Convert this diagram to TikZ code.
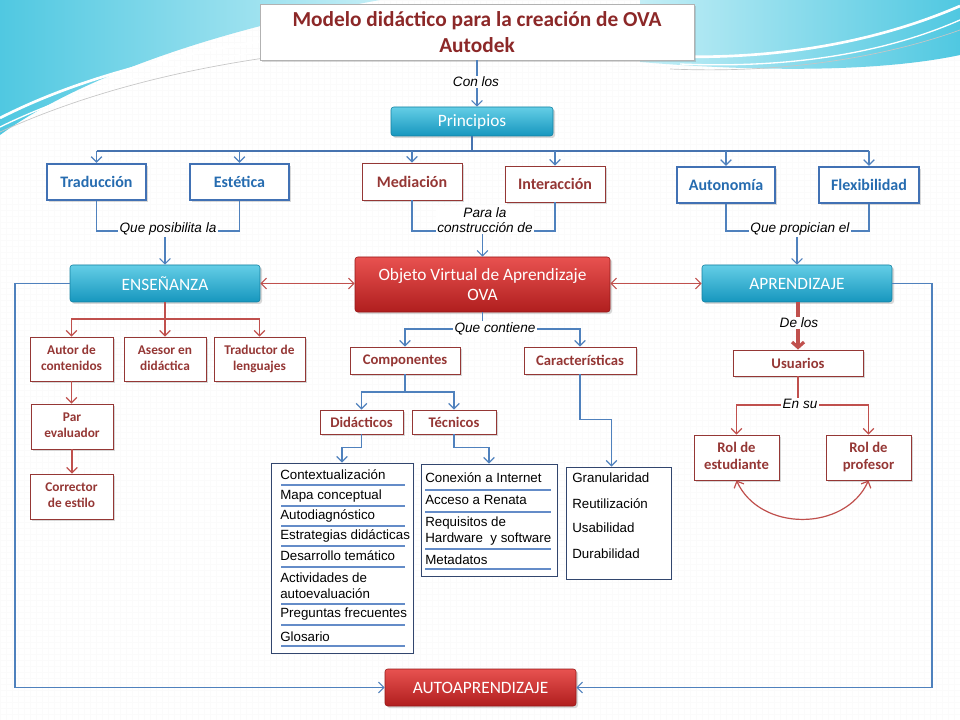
\documentclass[tikz,border=0pt]{standalone}
\usepackage{fontspec}
\setmainfont{Carlito}
\newfontfamily\arialf{Liberation Sans}
\usetikzlibrary{shadows,arrows.meta,calc}
\definecolor{cline}{RGB}{79,129,189}
\definecolor{cbus}{RGB}{70,115,175}
\definecolor{rline}{RGB}{192,80,77}
\definecolor{bbord}{RGB}{65,113,180}
\definecolor{btext}{RGB}{38,108,176}
\definecolor{rbord}{RGB}{149,55,53}
\definecolor{rtext}{RGB}{149,55,53}
\definecolor{ttext}{RGB}{140,40,40}
\definecolor{cyanTop}{RGB}{100,206,230}
\definecolor{cyanBot}{RGB}{22,150,190}
\definecolor{redTop}{RGB}{232,82,80}
\definecolor{redBot}{RGB}{176,30,30}
\definecolor{uline}{RGB}{100,140,200}
\definecolor{lbord}{RGB}{50,70,110}
\definecolor{swA}{RGB}{80,200,225}
\definecolor{swB}{RGB}{195,238,246}
\tikzset{
  shad/.style={drop shadow={opacity=0.3,shadow xshift=1.5pt,shadow yshift=-1.5pt}},
  titlebox/.style={shad,draw=gray!60,line width=0.6pt,fill=white,text=ttext,align=center,
    font=\bfseries\fontsize{16}{19.5}\selectfont},
  bluebox/.style={shad,draw=bbord,line width=1.8pt,fill=white,text=btext,align=center,
    inner sep=1pt,font=\bfseries\fontsize{12}{13}\selectfont},
  redbox/.style={shad,draw=rbord,line width=0.7pt,fill=white,text=rtext,align=center,
    inner sep=1pt,font=\bfseries\fontsize{12}{13}\selectfont},
  smallred/.style={redbox,font=\bfseries\fontsize{10}{12}\selectfont},
  midred/.style={redbox,font=\bfseries\fontsize{11}{12.75}\selectfont},
  cyanbox/.style={shad,rounded corners=2pt,top color=cyanTop,bottom color=cyanBot,
    draw=cyanBot!85!black,line width=0.4pt,text=white,align=center,
    font=\fontsize{13}{14}\selectfont},
  redfill/.style={shad,rounded corners=2pt,top color=redTop,bottom color=redBot,
    draw=redBot!85!black,line width=0.4pt,text=white,align=center,
    font=\fontsize{13}{15.5}\selectfont},
  lbl/.style={fill=white,inner sep=1pt,align=center,
    font=\arialf\itshape\fontsize{10.2}{11.5}\selectfont},
  listbox/.style={draw=lbord,line width=0.6pt,fill=white},
  item/.style={anchor=west,inner sep=0pt,align=left,
    font=\arialf\fontsize{10}{12}\selectfont},
  ul/.style={draw=uline,line width=0.8pt},
  bline/.style={draw=cline,line width=0.9pt},
  barrow/.style={bline,-{Straight Barb[length=4pt,width=8pt]}},
  bbusl/.style={draw=cbus,line width=1.6pt},
  rlin/.style={draw=rline,line width=0.9pt},
  rarrow/.style={rlin,-{Straight Barb[length=4pt,width=8pt]}},
  rdouble/.style={rlin,{Straight Barb[length=4pt,width=8pt]}-{Straight Barb[length=4pt,width=8pt]}},
  rthick/.style={draw=rline,line width=2.4pt,-{Straight Barb[length=4pt,width=9pt]}}
}
\begin{document}
\begin{tikzpicture}[x=0.75pt,y=-0.75pt]
\useasboundingbox (0,0) rectangle (960,720);
\fill[white] (0,0) rectangle (960,720);
\draw[gray!3,line width=0.4pt,step=4.5pt] (0,0) grid (960,720);
% background swooshes
\shade[left color=swA,right color=swB] (0,0) -- (380,0) .. controls (240,25) and (90,70) .. (0,135) -- cycle;
\draw[white,line width=2pt] (0,118) .. controls (90,72) and (220,38) .. (420,24);
\draw[white,line width=1pt] (0,127) .. controls (100,78) and (240,45) .. (430,34);
\draw[gray!45,line width=0.5pt] (0,132) .. controls (110,82) and (250,50) .. (440,42);
\shade[left color=swB,right color=swA] (640,0) -- (960,0) -- (960,55) .. controls (880,72) and (760,72) .. (640,62) -- cycle;
\draw[white,line width=2pt] (660,56) .. controls (800,62) and (900,32) .. (960,6);
\draw[white,line width=1pt] (680,64) .. controls (820,70) and (910,42) .. (960,20);
\draw[gray!45,line width=0.5pt] (670,69) .. controls (810,75) and (910,48) .. (960,30);

% nodes
\node[titlebox,minimum width=325.5pt,minimum height=42pt] (ttl) at (477,32) {Modelo didáctico para la creación de OVA\\Autodek};
\node[cyanbox,minimum width=121.5pt,minimum height=21.75pt] (princ) at (472,121.5) {Principios};

\node[bluebox,minimum width=74.25pt,minimum height=27pt] (trad) at (96.5,182) {Traducción};
\node[bluebox,minimum width=74.25pt,minimum height=27pt] (est) at (239.5,182) {Estética};
\node[redbox,minimum width=75pt,minimum height=27.75pt] (med) at (412,181.5) {Mediación};
\node[redbox,minimum width=75pt,minimum height=27pt] (inter) at (555,184) {Interacción};
\node[bluebox,minimum width=73.5pt,minimum height=27pt] (auton) at (726,185) {Autonomía};
\node[bluebox,minimum width=75pt,minimum height=27pt] (flex) at (869,185) {Flexibilidad};

\node[cyanbox,minimum width=142.5pt,minimum height=27.75pt] (ens) at (165,283.5) {ENSEÑANZA};
\node[redfill,minimum width=191.25pt,minimum height=41.25pt] (ova) at (482.5,284.5) {Objeto Virtual de Aprendizaje\\OVA};
\node[cyanbox,minimum width=142.5pt,minimum height=27.75pt] (apr) at (797,283.5) {APRENDIZAJE};

\node[smallred,minimum width=62.25pt,minimum height=33pt] (autor) at (71.5,359) {\strut Autor de\\contenidos\strut};
\node[smallred,minimum width=61.5pt,minimum height=33pt] (asesor) at (165,359) {\strut Asesor en\\didáctica\strut};
\node[smallred,minimum width=68.25pt,minimum height=33pt] (tradl) at (259.5,359) {\strut Traductor de\\lenguajes\strut};
\node[smallred,minimum width=61.5pt,minimum height=33.75pt] (par) at (72,426.5) {\strut Par\\evaluador\strut};
\node[smallred,minimum width=62.25pt,minimum height=33.75pt] (corr) at (71.5,496.5) {\strut Corrector\\de estilo\strut};

\node[midred,minimum width=82.5pt,minimum height=20.25pt] (comp) at (405,360.5) {Componentes};
\node[midred,minimum width=84pt,minimum height=20.25pt] (car) at (580,360.5) {Características};
\node[midred,minimum width=62.25pt,minimum height=18pt] (did) at (361.5,422) {Didácticos};
\node[midred,minimum width=63pt,minimum height=18pt] (tec) at (454,422) {Técnicos};

\node[midred,minimum width=97.5pt,minimum height=19.5pt] (usu) at (798,363) {Usuarios};
\node[midred,minimum width=63.75pt,minimum height=33.75pt] (rest) at (736.5,457.5) {\strut Rol de\\estudiante\strut};
\node[midred,minimum width=63.75pt,minimum height=33.75pt] (rprof) at (868.5,457.5) {\strut Rol de\\profesor\strut};

\node[redfill,minimum width=143.25pt,minimum height=27.75pt] (autoap) at (480.5,687.5) {AUTOAPRENDIZAJE};

% lists
\node[listbox,minimum width=106.5pt,minimum height=142.5pt] (ldid) at (342,558) {};
\node[item] (d1) at (280,475) {Contextualización};
\node[item] (d2) at (280,496) {Mapa conceptual};
\node[item] (d3) at (280,516) {Autodiagnóstico};
\node[item] (d4) at (280,536) {Estrategias didácticas};
\node[item] (d5) at (280,556) {Desarrollo temático};
\node[item] (d6) at (280,586) {Actividades de\\autoevaluación};
\node[item] (d7) at (280,614) {Preguntas frecuentes};
\node[item] (d8) at (280,637) {Glosario};
\foreach \yy in {485,506,526,546,567,604,625,646}
  \draw[ul] (281,\yy) -- (405,\yy);

\node[listbox,minimum width=102pt,minimum height=84pt] (ltec) at (489,520) {};
\node[item] (t1) at (425,478) {Conexión a Internet};
\node[item] (t2) at (425,500) {Acceso a Renata};
\node[item] (t3) at (425,531.5) {Requisitos de\\Hardware~ y software};
\node[item] (t4) at (425,560) {Metadatos};
\foreach \yy in {490,512,549,569}
  \draw[ul] (425,\yy) -- (551,\yy);

\node[listbox,minimum width=78.75pt,minimum height=84pt] (lcar) at (618.5,523) {};
\node[item] (c1) at (572,478) {Granularidad};
\node[item] (c2) at (572,504) {Reutilización};
\node[item] (c3) at (572,528) {Usabilidad};
\node[item] (c4) at (572,554) {Durabilidad};

% connectors
\draw[barrow] (ttl.south) -- (ttl.south |- princ.north);
\node[lbl] (lcon) at (476,82) {Con los};

\coordinate (bus) at (472,151);
\draw[bbusl] (princ.south) -- (bus);
\draw[bbusl] (trad.north |- bus) -- (flex.north |- bus);
\foreach \n in {trad,est,med,inter,auton,flex}
  \draw[barrow] (\n.north |- bus) -- (\n.north);

\coordinate (qpc) at (168,231);
\draw[bline] (trad.south) |- (qpc) -| (est.south);
\node[lbl] (lqp) at (168,229) {Que posibilita la};
\draw[barrow] (lqp.south -| ens.north) -- (ens.north);

\coordinate (pcc) at (485,231);
\draw[bline] (med.south) |- (pcc) -| (inter.south);
\node[lbl] (lpc) at (485,220) {Para la\\construcción de};
\draw[barrow] (lpc.south -| ova.north) -- (ova.north);

\coordinate (qrc) at (800,231);
\draw[bline] (auton.south) |- (qrc) -| (flex.south);
\node[lbl] (lqr) at (800,229) {Que propician el};
\draw[barrow] (lqr.south -| apr.north) -- (apr.north);

\draw[rdouble] (ens.east) -- (ens.east -| ova.west);
\draw[rdouble] (apr.west -| ova.east) -- (apr.west);

\draw[barrow] (ens.west) -- (15,283.5) |- (autoap.west);
\draw[barrow] (apr.east) -- (932,283.5) |- (autoap.east);

\coordinate (ebus) at (165,319);
\draw[rlin] (ens.south) -- (ebus);
\draw[rarrow] (ebus) -| (autor.north);
\draw[rarrow] (ebus) -- (asesor.north);
\draw[rarrow] (ebus) -| (tradl.north);
\draw[rarrow] (autor.south) -- (autor.south |- par.north);
\draw[rarrow] (par.south) -- (par.south |- corr.north);

\coordinate (obus) at (482.5,329);
\draw[bline] (ova.south) -- (obus);
\draw[barrow] (obus) -| (comp.north);
\draw[barrow] (obus) -| (car.north);
\node[lbl] (lqc) at (495,329) {Que contiene};

\coordinate (cbusc) at (405,392);
\draw[bline] (comp.south) -- (cbusc);
\draw[barrow] (cbusc) -| (did.north);
\draw[barrow] (cbusc) -| (tec.north);
\draw[barrow] (did.south) |- ($(ldid.north)+(0,-15)$) -- (ldid.north);
\draw[barrow] (tec.south) |- ($(ltec.north)+(0,-16)$) -- (ltec.north);
\draw[barrow] (car.south) |- ($(lcar.north)+(-7,-47)$) -- ($(lcar.north)+(-7,0)$);

\draw[rthick] (apr.south -| usu.north) -- (usu.north);
\node[lbl] (ldl) at (799,323) {De los};
\coordinate (ubus) at (798,405);
\draw[rlin] (usu.south) -- (ubus);
\draw[rarrow] (ubus) -| (rest.north);
\draw[rarrow] (ubus) -| (rprof.north);
\node[lbl] (lesu) at (800,404) {En su};
\draw[rdouble] (rest.south) .. controls (760,532) and (845,532) .. (rprof.south);
\end{tikzpicture}
\end{document}
